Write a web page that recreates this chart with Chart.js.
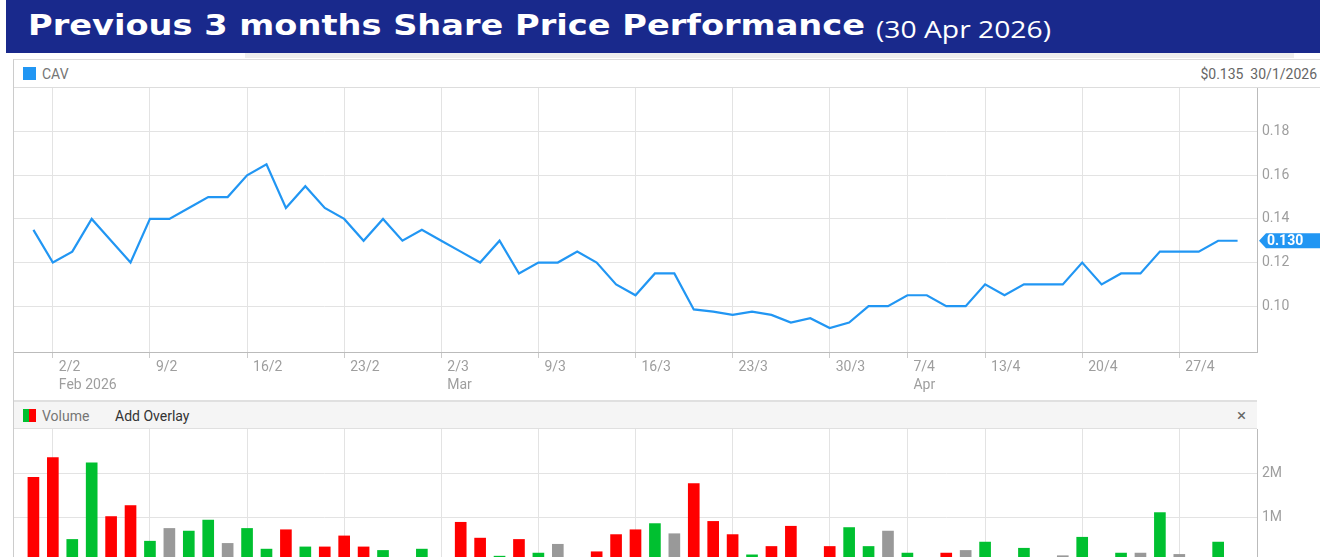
<!DOCTYPE html>
<html>
<head>
<meta charset="utf-8">
<script src="https://cdn.jsdelivr.net/npm/chart.js@4.4.1/dist/chart.umd.min.js"></script>
<style>
  html, body { margin: 0; padding: 0; width: 1320px; height: 557px; overflow: hidden; background: #fff; }
  .abs { position: absolute; }
  #title { left: 6px; top: 0; width: 1314px; height: 53px; background: #19298c; }
  #title .main { position: absolute; left: 22px; top: 8px; line-height: 29px; white-space: nowrap;
    font: bold 29px "DejaVu Sans", sans-serif; color: #fff; transform-origin: 0 0; }
  #title .date { position: absolute; left: 870px; top: 13px; line-height: 29px; white-space: nowrap;
    font: 400 23px "Open Sans", sans-serif; color: #fff; transform-origin: 0 0; }
  #strip { left: 245px; top: 53px; width: 1049px; height: 5px; background: #eee; }
  #panel { left: 13px; top: 59px; width: 1307px; height: 520px; border-left: 1px solid #ccc; border-top: 1px solid #ddd; }
  .hdr { font: 14px Roboto, sans-serif; color: #757575; }
  #priceHdr { left: 14px; top: 60px; width: 1306px; height: 27px; border-bottom: 1px solid #ddd; }
  #volHdr { left: 14px; top: 400px; width: 1243px; height: 26px; background: #f5f5f5;
    border-top: 2px solid #e0e0e0; border-bottom: 1px solid #e0e0e0; }
  .sq { position: absolute; width: 13px; height: 13px; }
  .lbl { position: absolute; line-height: 16px; white-space: nowrap; }
</style>
</head>
<body>
<div id="title" class="abs">
  <span class="main" id="mainTitle">Previous 3 months Share Price Performance</span>
  <span class="date" id="dateTitle">(30 Apr 2026)</span>
</div>
<div id="strip" class="abs"></div>
<div id="panel" class="abs"></div>

<div id="priceHdr" class="abs hdr">
  <div class="sq" style="left:9px; top:7px; background:#2196f3;"></div>
  <div class="lbl" style="left:28px; top:6px;">CAV</div>
  <div class="lbl" style="right:3px; top:6px; color:#666;">$0.135&nbsp;&nbsp;30/1/2026</div>
</div>

<div class="abs" style="left:14px; top:88px;">
  <canvas id="priceChart" width="1306" height="310"></canvas>
</div>

<div id="volHdr" class="abs hdr">
  <div class="sq" style="left:9px; top:7px; width:7px; background:#00c030;"></div>
  <div class="sq" style="left:15px; top:7px; width:7px; background:#ff0000;"></div>
  <div class="lbl" style="left:28px; top:6px;">Volume</div>
  <div class="lbl" style="left:101px; top:6px; color:#333;">Add Overlay</div>
  <div class="lbl" style="left:1223px; top:5px; color:#666; font-size:17px;">×</div>
</div>

<div class="abs" style="left:14px; top:429px;">
  <canvas id="volChart" width="1306" height="132"></canvas>
</div>

<script>
// trading days shown on the chart (d/m, 2026)
const tradingDays = [
  '30/1',
  '2/2', '3/2', '4/2', '5/2', '6/2', '9/2', '10/2', '11/2', '12/2', '13/2',
  '16/2', '17/2', '18/2', '19/2', '20/2', '23/2', '24/2', '25/2', '26/2', '27/2',
  '2/3', '3/3', '4/3', '5/3', '6/3', '9/3', '10/3', '11/3', '12/3', '13/3',
  '16/3', '17/3', '18/3', '19/3', '20/3', '23/3', '24/3', '25/3', '26/3', '27/3',
  '30/3', '31/3', '1/4', '2/4', '7/4', '8/4', '9/4', '10/4',
  '13/4', '14/4', '15/4', '16/4', '17/4', '20/4', '21/4', '22/4', '23/4', '24/4',
  '27/4', '28/4', '29/4', '30/4'
];

const closePrices = [
  0.135,
  0.12, 0.125, 0.14, 0.13, 0.12, 0.14, 0.14, 0.145, 0.15, 0.15,
  0.16, 0.165, 0.145, 0.155, 0.145, 0.14, 0.13, 0.14, 0.13, 0.135,
  0.13, 0.125, 0.12, 0.13, 0.115, 0.12, 0.12, 0.125, 0.12, 0.11,
  0.105, 0.115, 0.115, 0.0985, 0.0975, 0.096, 0.0975, 0.096, 0.0925, 0.0945,
  0.09, 0.0925, 0.10, 0.10, 0.105, 0.105, 0.10, 0.10,
  0.11, 0.105, 0.11, 0.11, 0.11, 0.12, 0.11, 0.115, 0.115, 0.125,
  0.125, 0.125, 0.13, 0.13
];

// volume in millions of shares
const volumes = [
  1.90,
  2.35, 0.49, 2.23, 1.01, 1.26, 0.45, 0.74, 0.68, 0.93, 0.40,
  0.74, 0.27, 0.71, 0.32, 0.32, 0.57, 0.32, 0.24, 0.05, 0.27,
  0.05, 0.88, 0.52, 0.11, 0.49, 0.18, 0.38, 0.05, 0.21, 0.60,
  0.71, 0.85, 0.62, 1.76, 0.90, 0.60, 0.14, 0.33, 0.79, 0.05,
  0.33, 0.76, 0.33, 0.68, 0.18, 0.05, 0.18, 0.24,
  0.43, 0.05, 0.29, 0.05, 0.12, 0.54, 0.05, 0.18, 0.18, 1.10,
  0.15, 0.05, 0.43, 0.05
];

// day direction: u = up, d = down, f = unchanged
const volumeMoves = [
  'd',
  'd', 'u', 'u', 'd', 'd', 'u', 'f', 'u', 'u', 'f',
  'u', 'u', 'd', 'u', 'd', 'd', 'd', 'u', 'd', 'u',
  'd', 'd', 'd', 'u', 'd', 'u', 'f', 'u', 'd', 'd',
  'd', 'u', 'f', 'd', 'd', 'd', 'u', 'd', 'd', 'u',
  'd', 'u', 'u', 'f', 'u', 'f', 'd', 'f',
  'u', 'd', 'u', 'f', 'f', 'u', 'd', 'u', 'f', 'u',
  'f', 'f', 'u', 'f'
];

const tickDates = ['2/2', '9/2', '16/2', '23/2', '2/3', '9/3', '16/3', '23/3', '30/3', '7/4', '13/4', '20/4', '27/4'];
const monthLabels = { '2/2': 'Feb 2026', '2/3': 'Mar', '7/4': 'Apr' };
const priceTicks = [0.10, 0.12, 0.14, 0.16, 0.18];
const volumeTicks = [1, 2];

const moveColors = { u: '#00c030', d: '#ff0000', f: '#999999' };
const gridColor = '#e3e3e3';
const axisColor = '#bbbbbb';
const tickFont = { family: 'Roboto', size: 14, lineHeight: 1.25 };

function dateTicks(scale) {
  scale.ticks = tickDates.map(d => ({ value: tradingDays.indexOf(d) }));
}

// right axis: fixed width, no extra room for half labels
function rightAxisFit(scale) {
  scale.width = 63;
  scale.paddingTop = 0;
  scale.paddingBottom = 0;
}

const lastLabel = {
  id: 'lastLabel',
  afterDraw(chart) {
    const { ctx, chartArea } = chart;
    const v = closePrices[closePrices.length - 1];
    const y = chart.scales.y.getPixelForValue(v);
    const x0 = chartArea.right + 2;
    ctx.save();
    ctx.fillStyle = '#2196f3';
    ctx.beginPath();
    ctx.moveTo(x0, y);
    ctx.lineTo(x0 + 7, y - 7.5);
    ctx.lineTo(chart.width, y - 7.5);
    ctx.lineTo(chart.width, y + 7.5);
    ctx.lineTo(x0 + 7, y + 7.5);
    ctx.closePath();
    ctx.fill();
    ctx.fillStyle = '#fff';
    ctx.font = 'bold 14px Roboto';
    ctx.textBaseline = 'middle';
    ctx.fillText(v.toFixed(3), x0 + 8, y + 0.5);
    ctx.restore();
  }
};

new Chart(document.getElementById('priceChart'), {
  type: 'line',
  data: {
    datasets: [{
      label: 'CAV',
      data: closePrices.map((v, i) => ({ x: i, y: v })),
      borderColor: '#2196f3',
      borderWidth: 2.2,
      pointRadius: 0,
      tension: 0
    }]
  },
  options: {
    responsive: false,
    animation: false,
    layout: { padding: 0 },
    plugins: { legend: { display: false }, tooltip: { enabled: false } },
    scales: {
      x: {
        type: 'linear',
        min: -1,
        max: 63,
        afterBuildTicks: dateTicks,
        afterFit: s => { s.height = 46; },
        grid: { color: gridColor, tickColor: '#cccccc', tickLength: 6 },
        border: { color: axisColor },
        ticks: {
          autoSkip: false,
          maxRotation: 0,
          align: 'start',
          labelOffset: 6,
          padding: 1,
          color: '#9e9e9e',
          font: tickFont,
          callback: v => {
            const d = tradingDays[v];
            return monthLabels[d] ? [d, monthLabels[d]] : d;
          }
        }
      },
      y: {
        position: 'right',
        min: 0.079,
        max: 0.2,
        afterBuildTicks: s => { s.ticks = priceTicks.map(v => ({ value: v })); },
        afterFit: rightAxisFit,
        grid: { color: gridColor, drawTicks: false },
        border: { color: axisColor },
        ticks: { padding: 5, color: '#9e9e9e', font: tickFont, callback: v => v.toFixed(2) }
      }
    }
  },
  plugins: [lastLabel]
});

new Chart(document.getElementById('volChart'), {
  type: 'bar',
  data: {
    datasets: [{
      label: 'Volume',
      data: volumes.map((v, i) => ({ x: i, y: v })),
      backgroundColor: volumeMoves.map(m => moveColors[m]),
      barThickness: 11
    }]
  },
  options: {
    responsive: false,
    animation: false,
    layout: { padding: 0 },
    plugins: { legend: { display: false }, tooltip: { enabled: false } },
    scales: {
      x: {
        type: 'linear',
        offset: false,
        min: -1,
        max: 63,
        afterBuildTicks: dateTicks,
        afterFit: s => { s.height = 0; },
        grid: { color: gridColor, drawTicks: false, offset: false },
        border: { display: false },
        ticks: { display: false }
      },
      y: {
        position: 'right',
        min: 0,
        max: 3,
        afterBuildTicks: s => { s.ticks = volumeTicks.map(v => ({ value: v })); },
        afterFit: rightAxisFit,
        grid: { color: gridColor, drawTicks: false },
        border: { color: axisColor },
        ticks: { padding: 5, color: '#9e9e9e', font: tickFont, callback: v => v + 'M' }
      }
    }
  }
});

// stretch the title text to the width it has in the original banner
document.fonts.ready.then(() => {
  [['mainTitle', 837], ['dateTitle', 175]].forEach(([id, target]) => {
    const el = document.getElementById(id);
    const w = el.getBoundingClientRect().width;
    el.style.transform = 'scaleX(' + (target / w) + ')';
  });
  const main = document.getElementById('mainTitle');
  document.getElementById('dateTitle').style.left = (main.offsetLeft + 848) + 'px';
});
</script>
</body>
</html>
